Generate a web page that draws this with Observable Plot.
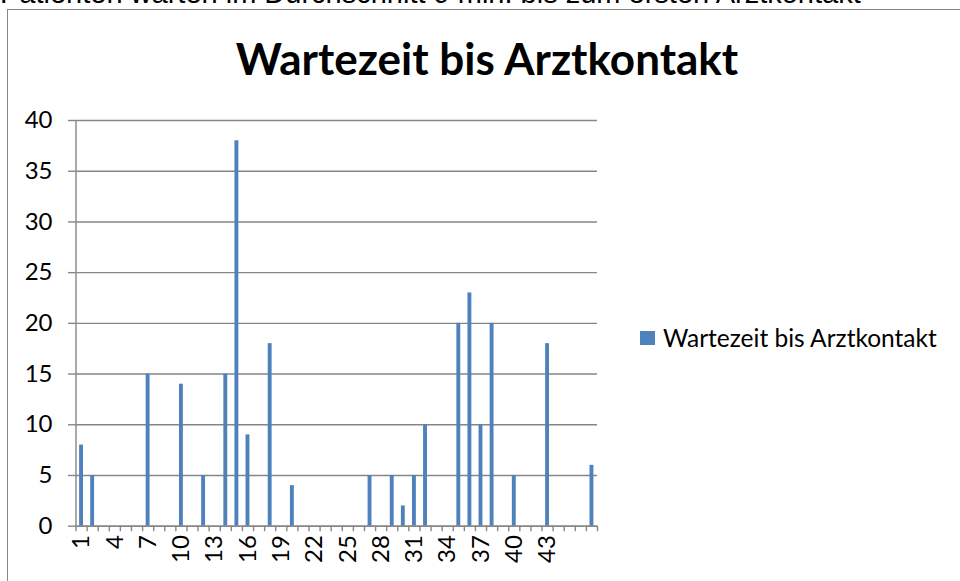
<!DOCTYPE html>
<html>
<head>
<meta charset="utf-8">
<script src="https://cdn.jsdelivr.net/npm/d3@7"></script>
<script src="https://cdn.jsdelivr.net/npm/@observablehq/plot@0.6"></script>
<style>
  html, body { margin: 0; padding: 0; background: #fff; overflow: hidden; }
  body { width: 960px; height: 581px; position: relative; font-family: Lato, "Open Sans", sans-serif; }
  #top { position: absolute; left: 0; top: -21px; font-family: "Liberation Sans", Arial, sans-serif; font-size: 29px; line-height: 29px; white-space: nowrap; color: #000; }
  #frame { position: absolute; left: 7px; top: 9px; width: 1000px; height: 700px; border: 1px solid #868686; box-sizing: border-box; }
  #chart { position: absolute; left: 0; top: 0; }
  #title { position: absolute; left: 0; width: 974px; top: 32px; text-align: center; font-weight: bold; font-size: 44px; line-height: 52px; color: #000; }
  #legend { position: absolute; left: 640px; top: 323px; font-size: 24.5px; color: #000; display: flex; align-items: center; white-space: nowrap; }
  #legend .sw { width: 15px; height: 14px; background: #4F81BD; margin-right: 8px; }
</style>
</head>
<body>
<div id="top">Patienten warten im Durchschnitt 9 min. bis zum ersten Arztkontakt</div>
<div id="frame"></div>
<div id="chart"></div>
<div id="title">Wartezeit bis Arztkontakt</div>
<div id="legend"><div class="sw"></div><span>Wartezeit bis Arztkontakt</span></div>
<script>
const seriesName = "Wartezeit bis Arztkontakt";
const categories = [1,2,3,4,5,6,7,8,9,10,11,12,13,14,15,16,17,18,19,20,21,22,23,24,25,26,27,28,29,30,31,32,33,34,35,36,37,38,39,40,41,42,43,44,45,46,47];
const values = [8,5,0,0,0,0,15,0,0,14,0,5,0,15,38,9,0,18,0,4,0,0,0,0,0,0,5,0,5,2,5,10,0,0,20,23,10,20,0,5,0,0,18,0,0,0,6];
const xTickLabels = ["1","4","7","10","13","16","19","22","25","28","31","34","37","40","43"];
const yTicks = [0,5,10,15,20,25,30,35,40];

const data = categories.map((c, i) => ({cat: c, value: values[i]})).filter(d => d.value > 0);
const boundaries = categories.map(c => c - 0.5).concat([categories[categories.length - 1] + 0.5]);
const labelPositions = xTickLabels.map(Number);
const grey = "#868686";

const chart = Plot.plot({
  width: 960,
  height: 581,
  marginLeft: 75.5,
  marginRight: 363,
  marginTop: 120,
  marginBottom: 55.3,
  x: {type: "linear", domain: [0.5, 47.5]},
  y: {domain: [0, 40]},
  style: {fontFamily: "Lato, 'Open Sans', sans-serif", fontSize: "24px", color: "#000", background: "transparent"},
  marks: [
    Plot.gridY({ticks: yTicks, stroke: grey, strokeOpacity: 1, strokeWidth: 1.4}),
    Plot.axisY({ticks: yTicks, tickSize: 7.5, stroke: grey, strokeWidth: 1.4, tickPadding: 16, fill: "#000", fontSize: 24, label: null}),
    Plot.ruleX([0.5], {y1: 0, y2: 40, stroke: grey, strokeWidth: 1.4}),
    Plot.axisX({ticks: boundaries, tickSize: 5.5, stroke: grey, strokeWidth: 1.4, tickFormat: () => "", label: null}),
    Plot.axisX({ticks: labelPositions, tickSize: 0, tickRotate: -90, tickPadding: 9, tickFormat: d => xTickLabels[labelPositions.indexOf(d)], fill: "#000", fontSize: 24, label: null}),
    Plot.rectY(data, {x1: d => d.cat - 0.5, x2: d => d.cat + 0.5, y: "value", fill: "#4F81BD", insetLeft: 3.6, insetRight: 3.6}),
    Plot.ruleY([0], {stroke: grey, strokeWidth: 1.4})
  ]
});
document.getElementById("chart").append(chart);
</script>
</body>
</html>
